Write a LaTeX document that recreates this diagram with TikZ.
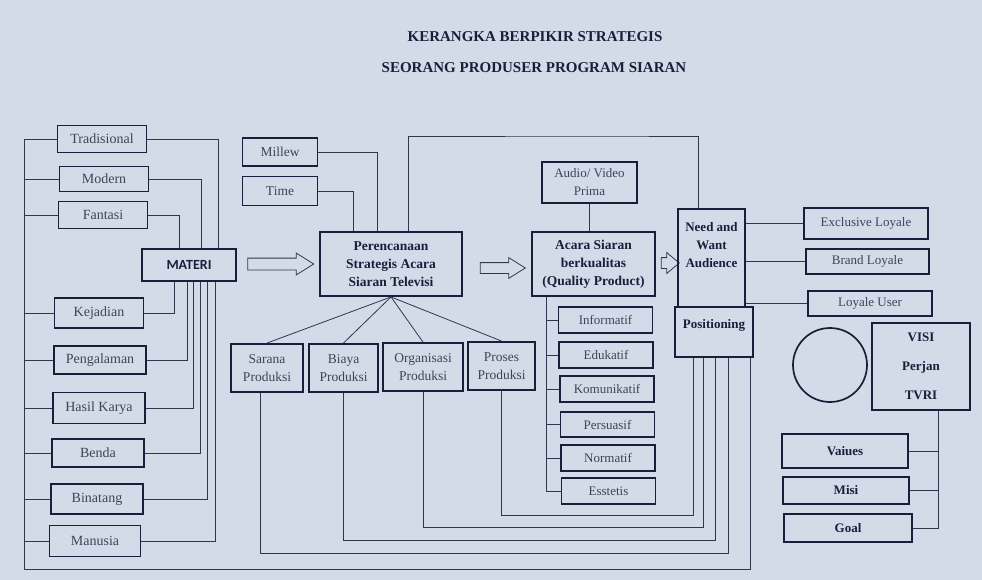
\documentclass[tikz,border=0pt]{standalone}
\usepackage{fontspec}
\setmainfont{Liberation Serif}
\newfontfamily\matfont{Carlito}
\usepackage{tikz}
\usetikzlibrary{calc}
\usetikzlibrary{positioning}
\usetikzlibrary{shapes.arrows}
\definecolor{paper}{RGB}{212,219,232}
\definecolor{navy}{RGB}{26,30,58}
\definecolor{ink}{RGB}{62,67,88}
\definecolor{wirec}{RGB}{48,54,78}

\begin{document}
\begin{tikzpicture}[x=1pt,y=-1pt,-,semithick]
	\tikzstyle{box}=[draw=navy, line width=1.9pt, inner sep=2pt, align=center, text=ink, font=\fontsize{13}{18}\selectfont]
	\tikzstyle{bbox}=[box, text=navy, font=\fontsize{13.5}{18}\selectfont\bfseries]
	\tikzstyle{lbl}=[align=center, text=navy, font=\fontsize{13}{18}\selectfont\bfseries]
	\tikzstyle{lcol}=[box, font=\fontsize{14}{18}\selectfont, minimum width=89pt, minimum height=28pt]
	\tikzstyle{kind}=[box, minimum width=94pt, minimum height=26pt]
	\tikzstyle{prod}=[box, font=\fontsize{13.5}{18}\selectfont, minimum height=48pt]
	\tikzstyle{wire}=[draw=wirec, line width=0.8pt]
	\tikzstyle{fat}=[single arrow, draw=wirec, line width=0.8pt, single arrow head extend=5pt, single arrow tip angle=64, inner xsep=0pt, text height=0pt, text depth=0pt]

	\fill[paper] (0,0) rectangle (982,580);
	\useasboundingbox (0,0) rectangle (982,580);

	% judul
	\node[lbl, font=\fontsize{15}{16}\selectfont\bfseries] (title1) at (535,37) {KERANGKA BERPIKIR STRATEGIS};
	\node[lbl, font=\fontsize{15}{16}\selectfont\bfseries] (title2) at (534,68) {SEORANG PRODUSER PROGRAM SIARAN};

	% materi
	\node[lcol, minimum height=27pt] (trad)       at (102,139) {Tradisional};
	\node[lcol, minimum height=25pt] (modern)     at (104,179) {Modern};
	\node[lcol, minimum height=27pt] (fantasi)    at (103,215) {Fantasi};
	\node[box, text=navy, font=\matfont\bfseries\fontsize{14}{15}\selectfont, minimum width=94pt, minimum height=32pt] (materi) at (189,265) {MATERI};
	\node[lcol, minimum height=30pt] (kejadian)   at (99,313)  {Kejadian};
	\node[lcol, minimum width=92pt]  (pengalaman) at (100,360) {Pengalaman};
	\node[lcol, minimum width=92pt, minimum height=31pt] (hasil) at (99,408) {Hasil Karya};
	\node[lcol, minimum width=92pt]  (benda)      at (98,453)  {Benda};
	\node[lcol, minimum width=92pt, minimum height=30pt] (binatang) at (97,499) {Binatang};
	\node[lcol, minimum width=91pt, minimum height=31pt] (manusia) at (95,541) {Manusia};

	% perencanaan
	\node[box, font=\fontsize{13.5}{18}\selectfont, minimum width=75pt, minimum height=28pt] (millew) at (280,152) {Millew};
	\node[box, font=\fontsize{13.5}{18}\selectfont, minimum width=75pt, minimum height=29pt] (time)   at (280,191) {Time};
	\node[bbox, minimum width=142pt, minimum height=64pt] (pere) at (391,264) {Perencanaan\\Strategis Acara\\Siaran Televisi};
	\node[prod, minimum width=72pt] (sarana)     at (267,368) {Sarana\\Produksi};
	\node[prod, minimum width=69pt] (biaya)      at (343.5,368) {Biaya\\Produksi};
	\node[prod, minimum width=80pt] (organisasi) at (423,367) {Organisasi\\Produksi};
	\node[prod, minimum width=67pt] (proses)     at (501.5,366) {Proses\\Produksi};

	% acara
	\node[box, minimum width=95pt, minimum height=41pt] (audio) at (589.5,182.5) {Audio/ Video\\Prima};
	\node[bbox, minimum width=123pt, minimum height=64pt] (acara) at (593.5,264) {Acara Siaran\\berkualitas\\(Quality Product)};
	\node[kind] (informatif)  at (605.5,320) {Informatif};
	\node[kind] (edukatif)    at (606,355)   {Edukatif};
	\node[kind] (komunikatif) at (607,389)   {Komunikatif};
	\node[kind, minimum height=25pt] (persuasif) at (607.5,424.5) {Persuasif};
	\node[kind] (normatif)    at (608,458)   {Normatif};
	\node[kind] (esstetis)    at (608.5,491) {Esstetis};

	% panah
	\node[fat, inner ysep=5.5pt, minimum height=66pt] (arrA) at (276,264) {};
	\node[fat, inner ysep=5pt, minimum height=45pt] (arrB) at (498.5,268) {};
	\node[fat, inner ysep=5pt, single arrow tip angle=80, minimum height=18pt] (arrC) at (667,263) {};

	% audience
	\node[bbox, minimum width=67pt, minimum height=98pt, label={[lbl, yshift=13pt]center:Need and\\Want\\Audience}] (need) at (711.5,258) {};
	\node[bbox, minimum width=78pt, minimum height=50pt, label={[lbl, yshift=7pt]center:Positioning}] (posi) at (714,332) {};
	\node[box, minimum width=124pt, minimum height=31pt] (exclusive)  at (866,223.5) {Exclusive Loyale};
	\node[box, minimum width=123pt, minimum height=25pt] (brand)      at (867.5,261.5) {Brand Loyale};
	\node[box, minimum width=124pt, minimum height=25pt] (loyaleuser) at (870,303.5) {Loyale User};
	\node[circle, draw=navy, line width=1.7pt, minimum size=74pt, inner sep=0pt] (ring) at (830,365) {};
	\node[bbox, minimum width=98pt, minimum height=87pt, font=\fontsize{13}{15}\selectfont\bfseries] (visi) at (921,366.5) {VISI\\[14pt]Perjan\\[14pt]TVRI};
	\node[bbox, font=\fontsize{13}{15}\selectfont\bfseries, minimum width=126pt, minimum height=34pt] (vaiues) at (845,451)   {Vaiues};
	\node[bbox, font=\fontsize{13}{15}\selectfont\bfseries, minimum width=126pt, minimum height=27pt] (misi)   at (846,490.5) {Misi};
	\node[bbox, font=\fontsize{13}{15}\selectfont\bfseries, minimum width=128pt, minimum height=28pt] (goal)   at (848,528)   {Goal};

	\coordinate (lb) at (24,569);
	\coordinate (pb) at (750,569);
	\coordinate (l1) at (693,515);
	\coordinate (l2) at (703,527);
	\coordinate (l3) at (715,540);
	\coordinate (l4) at (728,553);
	\coordinate (tl) at (600,136);
	\coordinate (ab) at ([xshift=15pt]acara.south west);
	\coordinate (vb) at ([xshift=17pt]visi.south);

	% garis kiri
	\draw[wire] (trad.west) -| (lb) -- (pb) -- (pb |- posi.south);
	\foreach \n in {modern,fantasi,kejadian,pengalaman,hasil,benda,binatang,manusia}
		\draw[wire] (\n.west) -- (\n.west -| lb);
	\draw[wire] (trad.east) -| ([xshift=29pt]materi.north);
	\draw[wire] (modern.east) -| ([xshift=12pt]materi.north);
	\draw[wire] (fantasi.east) -| ([xshift=-10pt]materi.north);
	\draw[wire] (kejadian.east) -| ([xshift=-15pt]materi.south);
	\foreach \n/\s in {pengalaman/-2,hasil/4,benda/11,binatang/18,manusia/26}
		\draw[wire] (\n.east) -| ([xshift=\s pt]materi.south);

	% perencanaan
	\draw[wire] (millew.east) -| ([xshift=-14pt]pere.north);
	\draw[wire] (time.east) -| ([xshift=-38pt]pere.north);
	\draw[wire] ([xshift=17pt]pere.north) |- (tl) -| ([xshift=-13pt]need.north);
	\path
		(pere.south) edge[wire] (sarana.north)
		(pere.south) edge[wire] (biaya.north)
		(pere.south) edge[wire] (organisasi.north)
		(pere.south) edge[wire] (proses.north);
	\draw[wire] (proses.south) |- (l1) -- (l1 |- posi.south);
	\draw[wire] (organisasi.south) |- (l2) -- (l2 |- posi.south);
	\draw[wire] (biaya.south) |- (l3) -- (l3 |- posi.south);
	\draw[wire] ([xshift=-7pt]sarana.south) |- (l4) -- (l4 |- posi.south);

	% acara
	\draw[wire] (audio.south) -- (audio.south |- acara.north);
	\draw[wire] (ab) |- (esstetis.west);
	\foreach \n in {informatif,edukatif,komunikatif,persuasif,normatif}
		\draw[wire] (\n.west -| ab) -- (\n.west);

	% audience
	\draw[wire] (need.east |- exclusive) -- (exclusive.west);
	\draw[wire] (need.east |- brand) -- (brand.west);
	\draw[wire] (need.east |- loyaleuser) -- (loyaleuser.west);
	\draw[wire] (vb) |- (goal.east);
	\draw[wire] (vaiues.east) -- (vaiues.east -| vb);
	\draw[wire] (misi.east) -- (misi.east -| vb);
\end{tikzpicture}
\end{document}
